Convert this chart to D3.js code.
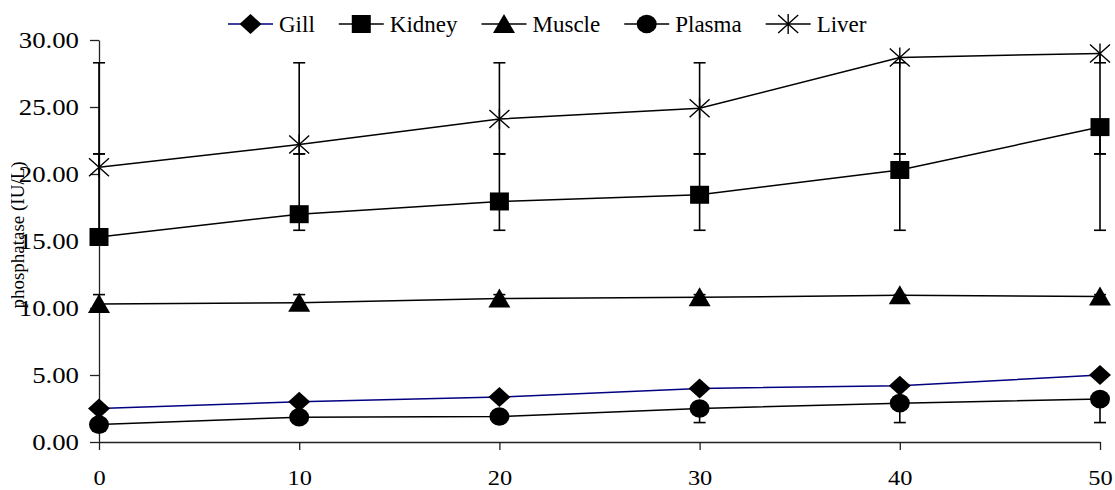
<!DOCTYPE html>
<html>
<head>
<meta charset="utf-8">
<script src="https://cdn.jsdelivr.net/npm/d3@7"></script>
<style>
  body { margin: 0; background: #fff; }
  svg { display: block; font-family: "Liberation Serif", "Times New Roman", serif; }
</style>
</head>
<body>
<div id="chart"></div>
<script>
// values
const days = [0, 10, 20, 30, 40, 50];
const xTicks = [0, 10, 20, 30, 40, 50];
const yTicks = [0, 5, 10, 15, 20, 25, 30];

const gill   = [2.5, 3.0, 3.35, 4.0, 4.2, 5.0];
const kidney = [15.3, 17.0, 17.95, 18.45, 20.3, 23.5];
const muscle = [10.3, 10.4, 10.7, 10.8, 10.95, 10.85];
const plasma = [1.3, 1.85, 1.9, 2.5, 2.9, 3.2];
const liver  = [20.5, 22.2, 24.1, 24.9, 28.7, 29.0];

// error bar ends (null = no bar that side)
const gillLow    = [null, null, null, null, null, null];
const gillHigh   = [null, null, null, null, null, null];
const kidneyLow  = [15.8, 15.8, 15.8, 15.8, 15.8, 15.8];
const kidneyHigh = [21.5, 21.5, 21.5, 21.5, 21.5, 21.5];
const muscleLow  = [null, null, null, null, null, null];
const muscleHigh = [11.0, 11.0, 11.0, 11.0, 11.0, 11.0];
const plasmaLow  = [1.45, 1.45, 1.45, 1.45, 1.45, 1.45];
const plasmaHigh = [null, null, null, null, null, null];
const liverLow   = [21.5, 21.5, 21.5, 21.5, 21.5, 21.5];
const liverHigh  = [28.3, 28.3, 28.3, 28.3, 28.3, 28.3];

const seriesNames = ["Gill", "Kidney", "Muscle", "Plasma", "Liver"];
const yTitle = "phosphatase (IU/L)";

const width = 1115, height = 490;
const margin = {top: 40, right: 15, bottom: 48, left: 99};

const series = [
  {name: seriesNames[0], values: gill,   low: gillLow,   high: gillHigh,   color: "#000080", marker: "diamond"},
  {name: seriesNames[1], values: kidney, low: kidneyLow, high: kidneyHigh, color: "#000",    marker: "square"},
  {name: seriesNames[2], values: muscle, low: muscleLow, high: muscleHigh, color: "#000",    marker: "triangle"},
  {name: seriesNames[3], values: plasma, low: plasmaLow, high: plasmaHigh, color: "#000",    marker: "circle"},
  {name: seriesNames[4], values: liver,  low: liverLow,  high: liverHigh,  color: "#000",    marker: "star"}
];

const x = d3.scaleLinear().domain([0, 50]).range([margin.left, width - margin.right]);
const y = d3.scaleLinear().domain([0, 30]).range([height - margin.bottom, margin.top]);

const svg = d3.select("#chart").append("svg")
  .attr("width", width).attr("height", height)
  .attr("viewBox", [0, 0, width, height]);

// axes
const xAxis = g => g
  .attr("transform", `translate(0,${y(0)})`)
  .call(d3.axisBottom(x).tickValues(xTicks).tickFormat(d3.format("d"))
    .tickSize(8).tickSizeOuter(0).tickPadding(21))
  .call(g => g.selectAll("path, line").attr("stroke", "#222").attr("stroke-width", 1.3))
  .call(g => g.selectAll("text")
    .attr("font-family", "Liberation Serif").attr("font-size", 20)
    .attr("fill", "#000")
    .attr("transform", "scale(1.22,1)"));

const yAxis = g => g
  .attr("transform", `translate(${x(0)},0)`)
  .call(d3.axisLeft(y).tickValues(yTicks).tickFormat(d3.format(".2f"))
    .tickSize(9).tickSizeOuter(0).tickPadding(11))
  .call(g => g.selectAll("path, line").attr("stroke", "#222").attr("stroke-width", 1.3))
  .call(g => g.selectAll("text")
    .attr("font-family", "Liberation Serif").attr("font-size", 22.5)
    .attr("fill", "#000")
    .attr("x", -20 / 1.19)
    .attr("transform", "scale(1.19,1)"));

// y title: its upper part is cut off in the source
svg.append("clipPath").attr("id", "titleClip")
  .append("rect").attr("x", 11).attr("y", 0).attr("width", 40).attr("height", height);

svg.append("g")
  .attr("clip-path", "url(#titleClip)")
  .append("text")
  .attr("transform", `translate(24,${(y(0) + y(30)) / 2 - 6}) rotate(-90)`)
  .attr("text-anchor", "middle")
  .attr("font-size", 19)
  .text(yTitle);

svg.append("g").call(xAxis);
svg.append("g").call(yAxis);

// marker drawing
const drawMarker = function(g, type, cx, cy) {
  if (type === "diamond") {
    g.append("path").attr("d", `M${cx},${cy - 10}L${cx + 11},${cy}L${cx},${cy + 10}L${cx - 11},${cy}Z`)
      .attr("fill", "#000");
  } else if (type === "square") {
    g.append("rect").attr("x", cx - 9.5).attr("y", cy - 9).attr("width", 19).attr("height", 18)
      .attr("fill", "#000");
  } else if (type === "triangle") {
    g.append("path").attr("d", `M${cx},${cy - 10}L${cx + 11},${cy + 9}L${cx - 11},${cy + 9}Z`)
      .attr("fill", "#000");
  } else if (type === "circle") {
    g.append("ellipse").attr("cx", cx).attr("cy", cy).attr("rx", 10).attr("ry", 9.3)
      .attr("fill", "#000");
  } else if (type === "star") {
    g.append("path")
      .attr("d", `M${cx - 10},${cy - 9}L${cx + 10},${cy + 9}M${cx - 10},${cy + 9}L${cx + 10},${cy - 9}M${cx},${cy - 10}L${cx},${cy + 10}`)
      .attr("stroke", "#000").attr("stroke-width", 1.4).attr("fill", "none");
  }
};

// error bars
const errG = svg.append("g").attr("stroke", "#000").attr("stroke-width", 1.6);
series.forEach(s => {
  days.forEach((d, i) => {
    const v = s.values[i], lo = s.low[i], hi = s.high[i];
    if (lo === null && hi === null) return;
    const top = Math.max(hi === null ? v : hi, v);
    const bot = Math.min(lo === null ? v : lo, v);
    errG.append("line").attr("x1", x(d)).attr("x2", x(d)).attr("y1", y(top)).attr("y2", y(bot));
    [lo, hi].filter(e => e !== null).forEach(e => {
      errG.append("line").attr("x1", x(d) - 6).attr("x2", x(d) + 6).attr("y1", y(e)).attr("y2", y(e));
    });
  });
});

// lines
const line = d3.line().x((v, i) => x(days[i])).y(v => y(v));
series.forEach(s => {
  svg.append("path").datum(s.values)
    .attr("fill", "none")
    .attr("stroke", s.color)
    .attr("stroke-width", 1.5)
    .attr("d", line);
});

// markers
series.forEach(s => {
  const g = svg.append("g");
  s.values.forEach((v, i) => drawMarker(g, s.marker, x(days[i]), y(v)));
});

// legend
const legend = svg.append("g").attr("font-size", 23);
const lineLen = 45, textGap = 6, itemGap = 24;
let lx = 228;
const ly = 24;
series.forEach(s => {
  const g = legend.append("g");
  g.append("line").attr("x1", lx).attr("x2", lx + lineLen).attr("y1", ly).attr("y2", ly)
    .attr("stroke", s.color).attr("stroke-width", 1.5);
  drawMarker(g, s.marker, lx + lineLen / 2, ly);
  const t = g.append("text").attr("x", lx + lineLen + textGap).attr("y", ly + 8).text(s.name);
  lx += lineLen + textGap + t.node().getComputedTextLength() + itemGap;
});
</script>
</body>
</html>
